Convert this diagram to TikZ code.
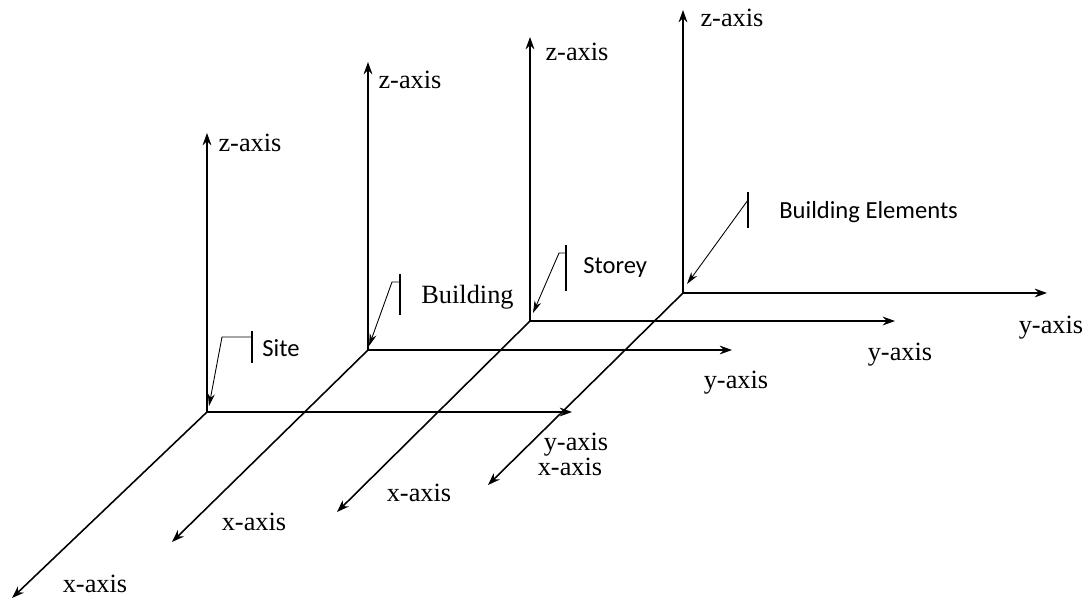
\documentclass[tikz,border=0pt]{standalone}
\usepackage{fontspec}
\setmainfont{Liberation Serif}
\newfontfamily\tagfont{Carlito}
\usepackage{tikz}
\usetikzlibrary{arrows.meta, positioning, calc}

\begin{document}
\begin{tikzpicture}[
      x=0.02cm, y=-0.02cm,
      axis/.style={draw, line width=0.9pt, -{Stealth[length=7pt,width=5pt]}},
      callout/.style={draw, line width=0.5pt, -{Stealth[length=7pt,width=4pt]}},
      bar/.style={draw, line width=0.6pt},
      axislabel/.style={font=\fontsize{15}{18}\selectfont, inner sep=0pt},
      tag/.style={font=\tagfont\fontsize{14}{17}\selectfont, inner sep=0pt}
    ]
      \useasboundingbox (0,0) rectangle (1092,602);
      % site
      \coordinate (o1) at (207,412);
      \coordinate (z1) at (207,133);
      \coordinate (y1) at (572,412);
      \coordinate (x1) at (12,598);
      \draw[axis] (o1) -- (z1);
      \draw[axis] (o1) -- (y1);
      \draw[axis] (o1) -- (x1);
      \node[axislabel] (zl1) at (250,143) {z-axis};
      \node[axislabel] (yl1) at (576,445) {y-axis};
      \node[axislabel] (xl1) at (95,584) {x-axis};
      \coordinate (b1) at (252,337);
      \coordinate (k1) at (222,337);
      \coordinate (t1) at (209,406);
      \draw[bar] (252,331) -- (252,363);
      \draw[callout] (b1) -- (k1) -- (t1);
      \node[tag, anchor=west] (site) at (262,348) {Site};
      % building
      \coordinate (o2) at (368,350);
      \coordinate (z2) at (368,62);
      \coordinate (y2) at (732,350);
      \coordinate (x2) at (172,542);
      \draw[axis] (o2) -- (z2);
      \draw[axis] (o2) -- (y2);
      \draw[axis] (o2) -- (x2);
      \node[axislabel] (zl2) at (410,80) {z-axis};
      \node[axislabel] (yl2) at (736,383) {y-axis};
      \node[axislabel] (xl2) at (254,522) {x-axis};
      \coordinate (b2) at (400,282);
      \coordinate (k2) at (392,282);
      \coordinate (t2) at (369,346);
      \draw[bar] (400,274) -- (400,315);
      \draw[callout] (b2) -- (k2) -- (t2);
      \node[axislabel, anchor=west] (building) at (421,297) {Building};
      % storey
      \coordinate (o3) at (530,321);
      \coordinate (z3) at (530,37);
      \coordinate (y3) at (895,321);
      \coordinate (x3) at (337,512);
      \draw[axis] (o3) -- (z3);
      \draw[axis] (o3) -- (y3);
      \draw[axis] (o3) -- (x3);
      \node[axislabel] (zl3) at (577,52) {z-axis};
      \node[axislabel] (yl3) at (900,355) {y-axis};
      \node[axislabel] (xl3) at (419,493) {x-axis};
      \coordinate (b3) at (566,253);
      \coordinate (k3) at (559,253);
      \coordinate (t3) at (533,313);
      \draw[bar] (566,245) -- (566,291);
      \draw[callout] (b3) -- (k3) -- (t3);
      \node[tag, anchor=west] (storey) at (583,267) {Storey};
      % building elements
      \coordinate (o4) at (683,293);
      \coordinate (z4) at (683,10);
      \coordinate (y4) at (1047,293);
      \coordinate (x4) at (488,485);
      \draw[axis] (o4) -- (z4);
      \draw[axis] (o4) -- (y4);
      \draw[axis] (o4) -- (x4);
      \node[axislabel] (zl4) at (732,18) {z-axis};
      \node[axislabel] (yl4) at (1051,328) {y-axis};
      \node[axislabel] (xl4) at (570,467) {x-axis};
      \coordinate (b4) at (748,200);
      \coordinate (t4) at (687,284);
      \draw[bar] (748,192) -- (748,228);
      \draw[callout] (b4) -- (t4);
      \node[tag, anchor=west] (elements) at (779,212) {Building Elements};
    \end{tikzpicture}
\end{document}
